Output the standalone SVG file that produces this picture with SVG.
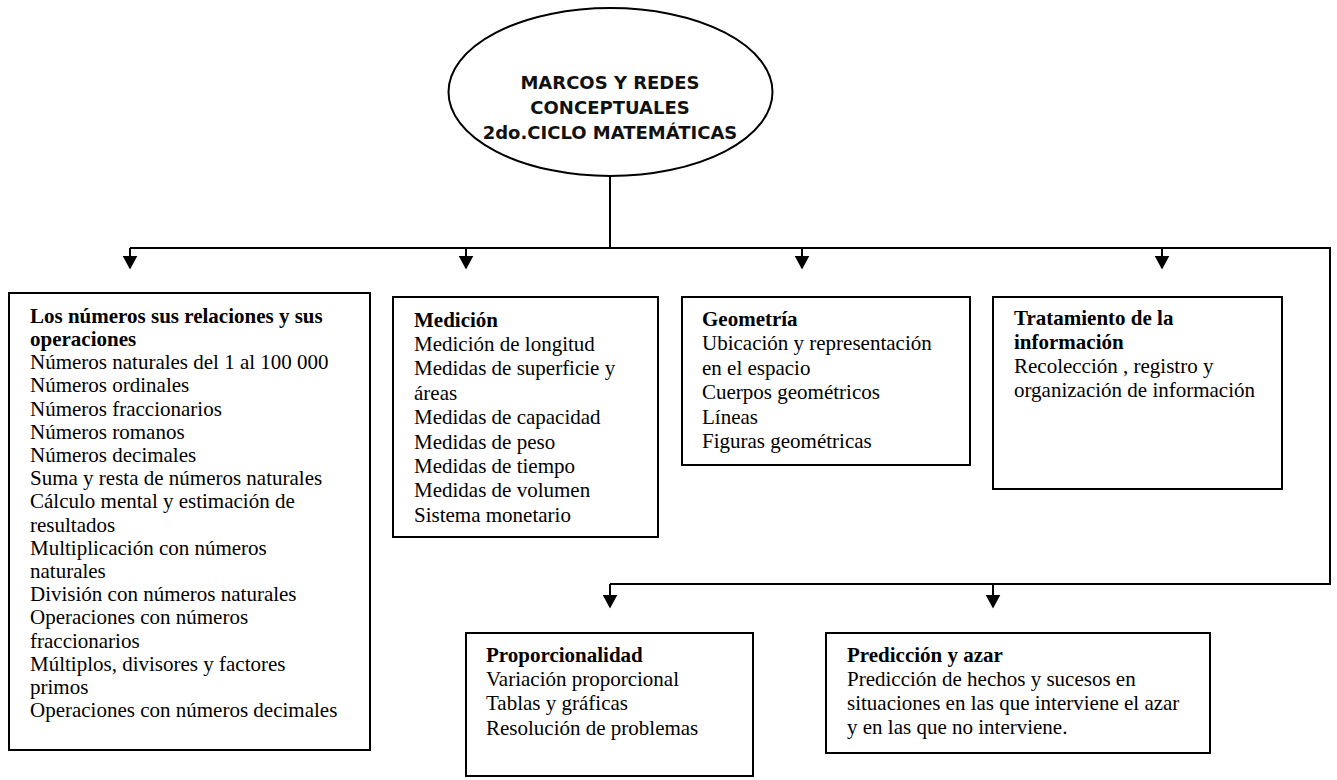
<svg xmlns="http://www.w3.org/2000/svg" width="1337" height="780" viewBox="0 0 1337 780">
<style>
.box{fill:#fff;stroke:#000;stroke-width:2}
.conn{fill:none;stroke:#000;stroke-width:2}
.t{font-family:"Liberation Serif","Times New Roman",serif;font-size:21px;fill:#000}
.b{font-weight:bold}
.e{font-family:"DejaVu Sans",Verdana,sans-serif;font-size:18px;font-weight:bold;fill:#111;text-anchor:middle}
</style>
<defs>
<marker id="ah" markerUnits="userSpaceOnUse" markerWidth="14" markerHeight="15" viewBox="0 0 13 14" refX="5" refY="7" orient="auto">
<path d="M0,0 L13,7 L0,14 z" fill="#000"/>
</marker>
</defs>
<rect width="1337" height="780" fill="#fff"/>
<g id="connectors">
<path class="conn" d="M610,176 V248"/>
<path class="conn" d="M130,248 H1330 V584 H610"/>
<path class="conn" d="M130,248 V261" marker-end="url(#ah)"/>
<path class="conn" d="M466,248 V261" marker-end="url(#ah)"/>
<path class="conn" d="M802,248 V261" marker-end="url(#ah)"/>
<path class="conn" d="M1162,248 V261" marker-end="url(#ah)"/>
<path class="conn" d="M610,584 V600" marker-end="url(#ah)"/>
<path class="conn" d="M993,584 V600" marker-end="url(#ah)"/>
</g>
<g id="root">
<ellipse cx="610.5" cy="92" rx="162" ry="84" fill="#fff" stroke="#000" stroke-width="2"/>
<text class="e" x="610" y="89">MARCOS Y REDES</text>
<text class="e" x="610" y="114">CONCEPTUALES</text>
<text class="e" x="610" y="139">2do.CICLO MATEMÁTICAS</text>
</g>
<g id="numeros">
<rect class="box" x="9" y="293" width="361" height="457"/>
<text class="t" x="30">
<tspan class="b" x="30" y="322.7">Los números sus relaciones y sus</tspan>
<tspan class="b" x="30" y="345.9">operaciones</tspan>
<tspan x="30" y="369.1">Números naturales del 1 al 100 000</tspan>
<tspan x="30" y="392.3">Números ordinales</tspan>
<tspan x="30" y="415.5">Números fraccionarios</tspan>
<tspan x="30" y="438.7">Números romanos</tspan>
<tspan x="30" y="461.9">Números decimales</tspan>
<tspan x="30" y="485.1">Suma y resta de números naturales</tspan>
<tspan x="30" y="508.3">Cálculo mental y estimación de</tspan>
<tspan x="30" y="531.5">resultados</tspan>
<tspan x="30" y="554.7">Multiplicación con números</tspan>
<tspan x="30" y="577.9">naturales</tspan>
<tspan x="30" y="601.1">División con números naturales</tspan>
<tspan x="30" y="624.3">Operaciones con números</tspan>
<tspan x="30" y="647.5">fraccionarios</tspan>
<tspan x="30" y="670.7">Múltiplos, divisores y factores</tspan>
<tspan x="30" y="693.9">primos</tspan>
<tspan x="30" y="717.1">Operaciones con números decimales</tspan>
</text>
</g>
<g id="medicion">
<rect class="box" x="393" y="297" width="265" height="240"/>
<text class="t">
<tspan class="b" x="414" y="326.7">Medición</tspan>
<tspan x="414" y="351">Medición de longitud</tspan>
<tspan x="414" y="375.4">Medidas de superficie y</tspan>
<tspan x="414" y="399.8">áreas</tspan>
<tspan x="414" y="424.2">Medidas de capacidad</tspan>
<tspan x="414" y="448.6">Medidas de peso</tspan>
<tspan x="414" y="473">Medidas de tiempo</tspan>
<tspan x="414" y="497.4">Medidas de volumen</tspan>
<tspan x="414" y="521.8">Sistema monetario</tspan>
</text>
</g>
<g id="geometria">
<rect class="box" x="682" y="297" width="288" height="168"/>
<text class="t">
<tspan class="b" x="702" y="326">Geometría</tspan>
<tspan x="702" y="350.4">Ubicación y representación</tspan>
<tspan x="702" y="374.8">en el espacio</tspan>
<tspan x="702" y="399.2">Cuerpos geométricos</tspan>
<tspan x="702" y="423.6">Líneas</tspan>
<tspan x="702" y="448">Figuras geométricas</tspan>
</text>
</g>
<g id="tratamiento">
<rect class="box" x="993" y="297" width="289" height="192"/>
<text class="t">
<tspan class="b" x="1014" y="325">Tratamiento de la</tspan>
<tspan class="b" x="1014" y="349">información</tspan>
<tspan x="1014" y="373">Recolección , registro y</tspan>
<tspan x="1014" y="397">organización de información</tspan>
</text>
</g>
<g id="proporcionalidad">
<rect class="box" x="466" y="633" width="287" height="143"/>
<text class="t">
<tspan class="b" x="486" y="661.7">Proporcionalidad</tspan>
<tspan x="486" y="686">Variación proporcional</tspan>
<tspan x="486" y="710.4">Tablas y gráficas</tspan>
<tspan x="486" y="734.8">Resolución de problemas</tspan>
</text>
</g>
<g id="prediccion">
<rect class="box" x="826" y="633" width="384" height="120"/>
<text class="t">
<tspan class="b" x="847" y="661.7">Predicción y azar</tspan>
<tspan x="847" y="685.8">Predicción de hechos y sucesos en</tspan>
<tspan x="847" y="709.9">situaciones en las que interviene el azar</tspan>
<tspan x="847" y="734">y en las que no interviene.</tspan>
</text>
</g>
</svg>
